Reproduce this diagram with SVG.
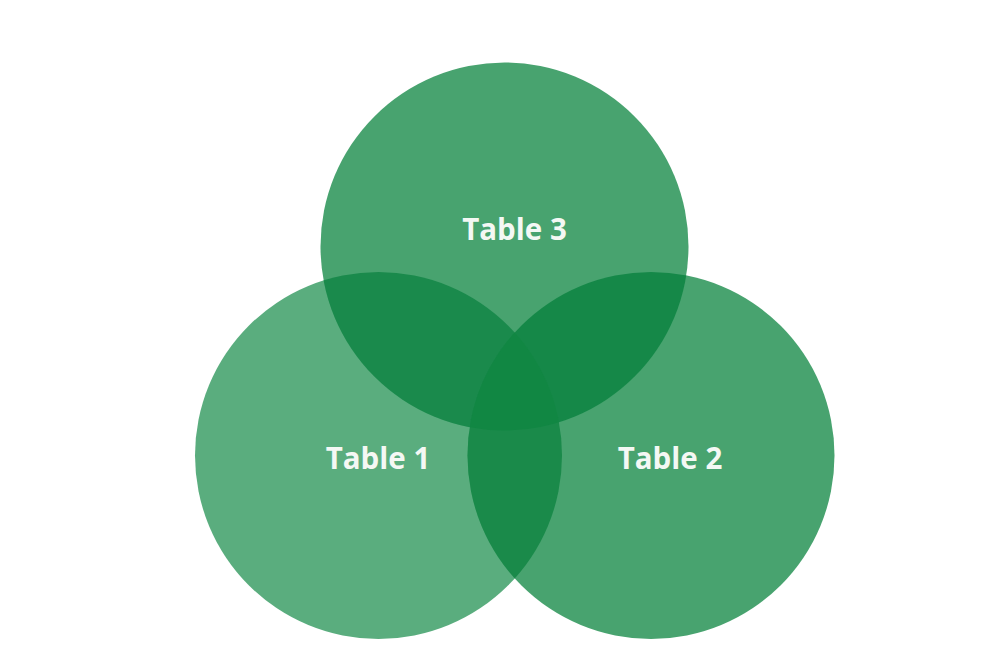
<svg xmlns="http://www.w3.org/2000/svg" width="992" height="668" viewBox="0 0 992 668">
<style>
.lbl{font-family:"Open Sans","Noto Sans","Liberation Sans",sans-serif;font-weight:700;font-size:29.5px;fill:#f4f8f4;text-anchor:middle}
</style>
<defs>
<clipPath id="c1"><circle cx="378.5" cy="455.5" r="183.5"/></clipPath>
<clipPath id="c2"><circle cx="651" cy="455.5" r="183.5"/></clipPath>
<clipPath id="c3"><circle cx="504.5" cy="246.5" r="184"/></clipPath>
</defs>
<rect width="992" height="668" fill="#ffffff"/>
<g id="table1"><circle cx="378.5" cy="455.5" r="183.5" fill="#5aad7e"/></g>
<g id="table2"><circle cx="651" cy="455.5" r="183.5" fill="#48a36f"/></g>
<g id="table3"><circle cx="504.5" cy="246.5" r="184" fill="#48a36f"/></g>
<g id="overlaps">
<circle cx="504.5" cy="246.5" r="184" fill="#1a8a4c" clip-path="url(#c1)"/>
<circle cx="504.5" cy="246.5" r="184" fill="#158848" clip-path="url(#c2)"/>
<g clip-path="url(#c1)"><circle cx="651" cy="455.5" r="183.5" fill="#1a8a4a"/></g>
<g clip-path="url(#c1)"><circle cx="504.5" cy="246.5" r="184" fill="#118743" clip-path="url(#c2)"/></g>
</g>
<g id="labels">
<text class="lbl" x="514.5" y="239.5">Table 3</text>
<text class="lbl" x="378" y="468.5">Table 1</text>
<text class="lbl" x="670" y="468.5">Table 2</text>
</g>
<g id="connectors"/>
</svg>
